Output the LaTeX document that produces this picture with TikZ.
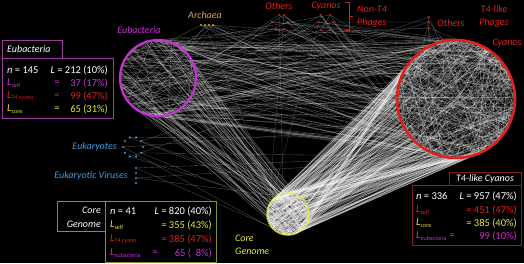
\documentclass[tikz,border=0pt]{standalone}
\usepackage{fontspec}
\setmainfont{Carlito}
\usetikzlibrary{calc}
\definecolor{mag}{HTML}{C832D2}
\definecolor{rd}{HTML}{E0201E}
\definecolor{yl}{HTML}{E6E640}
\definecolor{org}{HTML}{E8A050}
\definecolor{blu}{HTML}{3C9ADC}
\definecolor{bmag}{HTML}{9A3C9A}
\definecolor{byl}{HTML}{8C8C30}
\definecolor{brd}{HTML}{8C1E1E}
\newcommand\Lsub[1]{\textit{L}{\fontsize{6}{7}\selectfont\raisebox{-1.6pt}{#1}}}
\newcommand\rndedges[4]{% count, from, to, opacity
  \foreach \k in {1,...,#1}{%
    \pgfmathtruncatemacro\angA{rnd*360}%
    \pgfmathtruncatemacro\angB{rnd*360}%
    \draw[lnk, draw opacity=#4] (#2.\angA) -- (#3.\angB);}}
\newcommand\biasedges[6]{% count, from, to, opacity, min angle, span
  \foreach \k in {1,...,#1}{%
    \pgfmathtruncatemacro\angA{rnd*360}%
    \pgfmathtruncatemacro\angB{#5+rnd*#6}%
    \draw[lnk, draw opacity=#4] (#2.\angA) -- (#3.\angB);}}
\begin{document}
\begin{tikzpicture}[x=1pt,y=-1pt,
  lnk/.style={white, line width=0.35pt},
  ring/.style={circle, inner sep=0pt, outer sep=0pt},
  dotn/.style={circle, inner sep=0pt, outer sep=0pt, minimum size=2.4pt, fill=#1},
  lab/.style={font=\fontsize{10}{12}\selectfont\itshape, inner sep=0pt},
  box/.style={font=\fontsize{10.5}{12}\selectfont, inner sep=0pt},
  ]
\fill[black] (0,0) rectangle (524,263);
\useasboundingbox (0,0) rectangle (524,263);
% circle layouts
\node[ring, minimum size=76pt] (eub) at (158,78) {};
\node[ring, minimum size=118pt] (t4) at (456,99) {};
\node[ring, minimum size=42pt] (core) at (288,214) {};
\node[ring, minimum size=20pt] (euk) at (133,147) {};
% small clusters
\foreach \i/\x in {1/201,2/205,3/209,4/213} \node[dotn=org] (a\i) at (\x,25) {};
\foreach \i/\x/\y in {1/272/22,2/279/15,3/284/15,4/288/22,5/276/29,6/284/29}
  \node[dotn=rd] (o\i) at (\x,\y) {};
\foreach \i/\x/\y in {1/321/15,2/330/15,3/318/22,4/333/22,5/321/30,6/330/30}
  \node[dotn=rd] (c\i) at (\x,\y) {};
\foreach \i/\y in {1/17,2/22,3/28} \node[dotn=rd] (p\i) at (429,\y) {};
\foreach \i/\y in {1/168,2/173,3/178,4/183} \node[dotn=blu] (v\i) at (136,\y) {};
\foreach \i in {1,...,10} \node[dotn=blu] (e\i) at ($(euk)+(\i*36:10)$) {};
% edges
\pgfmathsetseed{7}
\rndedges{300}{t4}{t4}{0.3}
\rndedges{130}{core}{core}{0.4}
\biasedges{230}{core}{t4}{0.38}{140}{160}
\rndedges{110}{core}{t4}{0.3}
\rndedges{100}{eub}{t4}{0.35}
\biasedges{65}{eub}{core}{0.35}{260}{120}
\rndedges{35}{eub}{eub}{0.35}
\foreach \n in {a1,a2,a3,a4,o1,o2,o3,o4,o5,o6,c1,c2,c3,c4,c5,c6,p1,p2,p3}{
  \foreach \k in {1,2}{
    \pgfmathtruncatemacro\angB{rnd*360}
    \draw[lnk, draw opacity=0.3] (\n) -- (t4.\angB);}
  \pgfmathtruncatemacro\angB{rnd*360}
  \draw[lnk, draw opacity=0.3] (\n) -- (eub.\angB);
}
\foreach \n in {o2,o3,c1,a2}{
  \pgfmathtruncatemacro\angB{rnd*360}
  \draw[lnk, draw opacity=0.25] (\n) -- (core.\angB);
}
\foreach \n in {e1,e3,e5,e7,e9,v1,v3}{
  \pgfmathtruncatemacro\angB{rnd*360}
  \draw[lnk, draw opacity=0.3] (\n) -- (t4.\angB);
  \pgfmathtruncatemacro\angB{rnd*360}
  \draw[lnk, draw opacity=0.3] (\n) -- (core.\angB);
}
\draw[lnk, draw opacity=0.4] (o5) -- (o6) (c1) -- (c6) (c2) -- (c5) (p2) -- (c4);
% rings
\draw[mag, line width=2.2pt] (eub) circle (38);
\draw[rd, line width=2.6pt] (t4) circle (59);
\draw[yl, line width=1.6pt, dash pattern=on 1.2pt off 0.6pt] (core) circle (21);
% bracket
\draw[rd, line width=0.9pt] (345,2) -- (349,2) -- (349,30) -- (345,30) (349,16) -- (353,16);
% labels
\node[lab, text=mag] at (139,30) {Eubacteria};
\node[lab, text=org] at (205,15) {Archaea};
\node[lab, text=rd] at (279,6) {Others};
\node[lab, text=rd] at (326,6) {Cyanos};
\node[lab, text=rd, anchor=west] at (357,9) {Non-T4};
\node[lab, text=rd, anchor=west] at (357,23) {Phages};
\node[lab, text=rd] at (451,23) {Others};
\node[lab, text=rd] at (494,9) {T4-like};
\node[lab, text=rd] at (494,23) {Phages};
\node[lab, text=rd] at (507,43) {Cyanos};
\node[lab, text=blu, anchor=east] at (117,147) {Eukaryotes};
\node[lab, text=blu, anchor=east] at (128,176) {Eukaryotic Viruses};
\node[lab, text=yl, anchor=west] at (235,238) {Core};
\node[lab, text=yl, anchor=west] at (235,251) {Genome};
% Eubacteria box
\filldraw[draw=bmag, fill=black, line width=0.6pt] (2,58) rectangle (113,118);
\filldraw[draw=bmag, fill=black, line width=0.6pt] (2,40) rectangle (62,58);
\node[lab, text=white, anchor=west] at (7,49) {Eubacteria};
\node[box, text=white, anchor=west] at (7,70) {\textit{n} = 145};
\node[box, text=white, anchor=east] at (108,70) {\textit{L} = 212 (10\%)};
\node[box, text=mag, anchor=west] at (7,83) {\Lsub{self}};
\node[box, text=mag] at (57,83) {=};
\node[box, text=mag, anchor=east] at (108,83) {37 (17\%)};
\node[box, text=rd, anchor=west] at (7,96) {\Lsub{T4 cyano}};
\node[box, text=rd] at (57,96) {=};
\node[box, text=rd, anchor=east] at (108,96) {99 (47\%)};
\node[box, text=yl, anchor=west] at (7,109) {\Lsub{core}};
\node[box, text=yl] at (57,109) {=};
\node[box, text=yl, anchor=east] at (108,109) {65 (31\%)};
% Core box
\filldraw[draw=byl, fill=black, line width=0.6pt] (105,201) rectangle (216,262);
\filldraw[draw=byl, fill=black, line width=0.6pt] (57,201) rectangle (105,231);
\node[lab, text=white, anchor=east] at (101,210) {Core};
\node[lab, text=white, anchor=east] at (101,224) {Genome};
\node[box, text=white, anchor=west] at (110,211) {\textit{n} = 41};
\node[box, text=white, anchor=east] at (212,211) {\textit{L} = 820 (40\%)};
\node[box, text=yl, anchor=west] at (110,225) {\Lsub{self}};
\node[box, text=yl, anchor=east] at (212,225) {= 355 (43\%)};
\node[box, text=rd, anchor=west] at (110,239) {\Lsub{T4 cyano}};
\node[box, text=rd, anchor=east] at (212,239) {= 385 (47\%)};
\node[box, text=mag, anchor=west] at (110,253) {\Lsub{eubacteria}};
\node[box, text=mag] at (155,253) {=};
\node[box, text=mag, anchor=east] at (212,253) {65 (\ \ 8\%)};
% T4 box
\filldraw[draw=brd, fill=black, line width=0.6pt] (412,185) rectangle (521,245);
\filldraw[draw=brd, fill=black, line width=0.6pt] (449,172) rectangle (521,185);
\node[lab, text=white] at (485,178.5) {T4-like Cyanos};
\node[box, text=white, anchor=west] at (416,196) {\textit{n} = 336};
\node[box, text=white, anchor=east] at (517,196) {\textit{L} = 957 (47\%)};
\node[box, text=rd, anchor=west] at (416,210) {\Lsub{self}};
\node[box, text=rd, anchor=east] at (517,210) {= 451 (47\%)};
\node[box, text=yl, anchor=west] at (416,223) {\Lsub{core}};
\node[box, text=yl, anchor=east] at (517,223) {= 385 (40\%)};
\node[box, text=mag, anchor=west] at (416,236) {\Lsub{eubacteria}};
\node[box, text=mag] at (452,236) {=};
\node[box, text=mag, anchor=east] at (517,236) {99 (10\%)};
\end{tikzpicture}
\end{document}
